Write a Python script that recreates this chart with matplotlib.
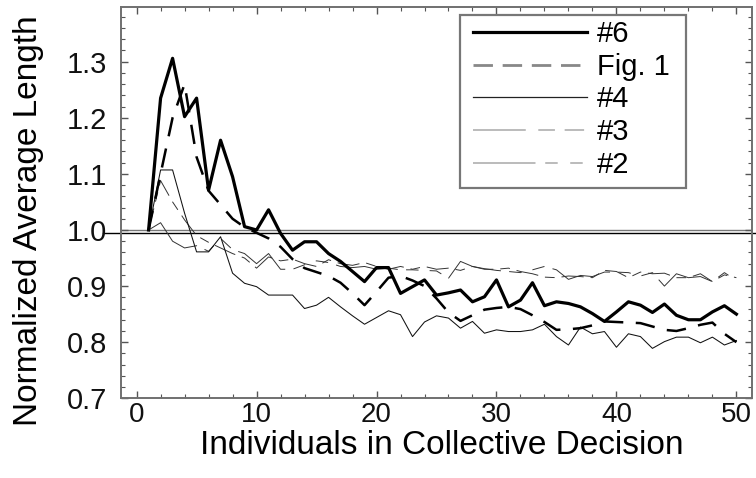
import matplotlib
matplotlib.use("Agg")
import matplotlib.pyplot as plt
from matplotlib.lines import Line2D
from matplotlib.patches import Rectangle
from matplotlib.ticker import MultipleLocator, FormatStrFormatter
import numpy as np

plt.rcParams['font.family'] = ['Liberation Sans', 'DejaVu Sans']
plt.rcParams['lines.scale_dashes'] = False

# --- data ---
n_ind = np.arange(1, 51)

run6 = [1.000, 1.235, 1.306, 1.202, 1.235, 1.071, 1.160, 1.095, 1.006, 1.000,
        1.036, 0.994, 0.964, 0.979, 0.979, 0.958, 0.944, 0.926, 0.908, 0.933,
        0.933, 0.887, 0.899, 0.911, 0.884, 0.888, 0.893, 0.872, 0.881, 0.911,
        0.863, 0.875, 0.906, 0.865, 0.872, 0.869, 0.863, 0.851, 0.837, 0.854,
        0.872, 0.866, 0.853, 0.868, 0.848, 0.840, 0.840, 0.854, 0.865, 0.850]

fig1 = [1.000, 1.100, 1.200, 1.260, 1.130, 1.070, 1.045, 1.020, 1.005, 0.995,
        0.985, 0.970, 0.948, 0.932, 0.925, 0.918, 0.906, 0.887, 0.866, 0.890,
        0.915, 0.918, 0.910, 0.900, 0.878, 0.853, 0.838, 0.848, 0.858, 0.861,
        0.863, 0.859, 0.848, 0.836, 0.822, 0.823, 0.825, 0.830, 0.837, 0.836,
        0.835, 0.834, 0.828, 0.822, 0.820, 0.825, 0.831, 0.835, 0.815, 0.800]

run4 = [1.000, 1.107, 1.107, 1.030, 0.961, 0.961, 0.988, 0.923, 0.905, 0.899,
        0.884, 0.884, 0.884, 0.860, 0.866, 0.880, 0.863, 0.847, 0.832, 0.844,
        0.856, 0.849, 0.810, 0.836, 0.847, 0.843, 0.825, 0.837, 0.816, 0.822,
        0.819, 0.819, 0.822, 0.832, 0.810, 0.795, 0.827, 0.815, 0.819, 0.791,
        0.815, 0.810, 0.789, 0.801, 0.809, 0.809, 0.799, 0.809, 0.795, 0.803]

run3 = [1.000, 1.088, 1.050, 1.018, 0.990, 0.978, 0.968, 0.958, 0.950, 0.932,
        0.952, 0.945, 0.948, 0.940, 0.935, 0.947, 0.940, 0.937, 0.942, 0.935,
        0.930, 0.935, 0.930, 0.935, 0.930, 0.932, 0.928, 0.935, 0.930, 0.930,
        0.932, 0.926, 0.922, 0.916, 0.915, 0.918, 0.917, 0.915, 0.928, 0.926,
        0.915, 0.925, 0.922, 0.923, 0.915, 0.915, 0.922, 0.908, 0.920, 0.915]

run2 = [1.000, 1.013, 0.980, 0.968, 0.972, 0.962, 0.985, 0.965, 0.958, 0.940,
        0.958, 0.930, 0.930, 0.938, 0.945, 0.942, 0.935, 0.933, 0.935, 0.930,
        0.932, 0.929, 0.929, 0.928, 0.927, 0.914, 0.944, 0.935, 0.931, 0.928,
        0.926, 0.924, 0.929, 0.935, 0.929, 0.912, 0.919, 0.917, 0.925, 0.925,
        0.924, 0.918, 0.924, 0.900, 0.922, 0.915, 0.917, 0.908, 0.924, 0.910]

labels = ['#6', 'Fig. 1', '#4', '#3', '#2']
ref_level = 0.9955

W, H = 756, 478

# --- figure ---
fig = plt.figure(figsize=(W / 100, H / 100), dpi=100)
ax = fig.add_axes([121 / W, 1 - 398.3 / H, 631 / W, 391.6 / H])

ax.axhline(1.0, color='#777777', lw=1.0, zorder=1)
ax.axhline(ref_level, xmin=-0.029, xmax=1.01, color='black', lw=1.0,
           clip_on=False, zorder=1)

ax.plot(n_ind, run2, color='#333333', lw=0.7, dashes=[45, 6, 9, 8, 9, 6], zorder=2)
ax.plot(n_ind, run3, color='#333333', lw=0.7, dashes=[16, 5, 7, 5], zorder=2)
ax.plot(n_ind, run4, color='#111111', lw=0.75, zorder=2)
ax.plot(n_ind, fig1, color='black', lw=1.8, dashes=[14, 9], zorder=3)
ax.plot(n_ind, run6, color='black', lw=2.3, zorder=4)

ax.set_xlim(-1.3, 51.3)
ax.set_ylim(0.7, 1.398)
ax.xaxis.set_major_locator(MultipleLocator(10))
ax.xaxis.set_minor_locator(MultipleLocator(2))
ax.yaxis.set_major_locator(MultipleLocator(0.1))
ax.yaxis.set_minor_locator(MultipleLocator(0.02))
ax.yaxis.set_major_formatter(FormatStrFormatter('%.1f'))

for sp in ax.spines.values():
    sp.set_color('#707070')
    sp.set_linewidth(1.4)
ax.tick_params(which='both', direction='in', top=True, right=True,
               color='#555555', labelcolor='#111111')
ax.tick_params(which='major', length=5, width=1.0)
ax.tick_params(which='minor', length=3, width=0.8)
ax.tick_params(axis='y', pad=10, labelsize=21)
ax.tick_params(axis='x', pad=3, labelsize=20)

ax.set_xlabel('Individuals in Collective Decision', fontsize=24)
ax.set_ylabel('Normalized Average Length', fontsize=24)
ax.xaxis.set_label_coords(0.509, -0.08)
ax.yaxis.set_label_coords(-0.122, 0.453)

# legend drawn with its own grey samples, as in the original
handles = [
    Line2D([], [], color='black', lw=2.3),
    Line2D([], [], color='#888888', lw=2.0, dashes=[14, 7]),
    Line2D([], [], color='#222222', lw=0.9),
    Line2D([], [], color='#bbbbbb', lw=1.4, dashes=[38, 9, 12, 7, 14, 8]),
    Line2D([], [], color='#bbbbbb', lw=1.4, dashes=[45, 7, 9, 9, 9, 7]),
]
leg = ax.legend(handles, labels, loc='upper left',
                bbox_to_anchor=(469 / W, 1 - 16 / H),
                bbox_transform=fig.transFigure, borderaxespad=0,
                fontsize=21, handlelength=3.9, handletextpad=0.35,
                labelspacing=0.16, borderpad=0.14, frameon=False)
fig.add_artist(Rectangle((460 / W, 1 - 188 / H), 226 / W, 173 / H,
                         transform=fig.transFigure, fill=False,
                         edgecolor='#777777', lw=1.6, zorder=5))

fig.savefig('out.png', dpi=100)
